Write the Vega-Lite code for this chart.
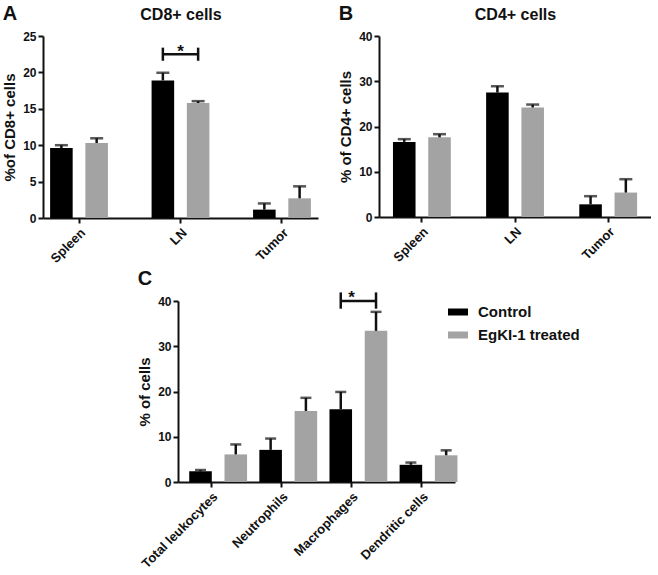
{
  "$schema": "https://vega.github.io/schema/vega-lite/v6.json",
  "padding": {"top": 4, "left": 2, "right": 0, "bottom": 0},
  "background": "white",
  "datasets": {
    "bars": [
      {"panel": "A", "tissue": "Spleen", "group": "Control", "value": 9.6, "upper": 10.0},
      {"panel": "A", "tissue": "Spleen", "group": "EgKI-1 treated", "value": 10.3, "upper": 10.95},
      {"panel": "A", "tissue": "LN", "group": "Control", "value": 18.9, "upper": 19.95},
      {"panel": "A", "tissue": "LN", "group": "EgKI-1 treated", "value": 15.8, "upper": 16.05},
      {"panel": "A", "tissue": "Tumor", "group": "Control", "value": 1.15, "upper": 2.0},
      {"panel": "A", "tissue": "Tumor", "group": "EgKI-1 treated", "value": 2.7, "upper": 4.35},
      {"panel": "B", "tissue": "Spleen", "group": "Control", "value": 16.6, "upper": 17.2},
      {"panel": "B", "tissue": "Spleen", "group": "EgKI-1 treated", "value": 17.6, "upper": 18.3},
      {"panel": "B", "tissue": "LN", "group": "Control", "value": 27.5, "upper": 28.9},
      {"panel": "B", "tissue": "LN", "group": "EgKI-1 treated", "value": 24.2, "upper": 24.85},
      {"panel": "B", "tissue": "Tumor", "group": "Control", "value": 2.8, "upper": 4.6},
      {"panel": "B", "tissue": "Tumor", "group": "EgKI-1 treated", "value": 5.4, "upper": 8.35},
      {"panel": "C", "tissue": "Total leukocytes", "group": "Control", "value": 2.35, "upper": 2.65},
      {"panel": "C", "tissue": "Total leukocytes", "group": "EgKI-1 treated", "value": 6.1, "upper": 8.3},
      {"panel": "C", "tissue": "Neutrophils", "group": "Control", "value": 7.1, "upper": 9.6},
      {"panel": "C", "tissue": "Neutrophils", "group": "EgKI-1 treated", "value": 15.7, "upper": 18.6},
      {"panel": "C", "tissue": "Macrophages", "group": "Control", "value": 16.1, "upper": 19.9},
      {"panel": "C", "tissue": "Macrophages", "group": "EgKI-1 treated", "value": 33.4, "upper": 37.6},
      {"panel": "C", "tissue": "Dendritic cells", "group": "Control", "value": 3.8, "upper": 4.3},
      {"panel": "C", "tissue": "Dendritic cells", "group": "EgKI-1 treated", "value": 5.9, "upper": 7.0}
    ],
    "sig": [
      {"panel": "A", "tissue": "LN", "group": "Control", "lo": 21.6, "hi": 23.4, "mid": 22.5, "star": 23.0},
      {"panel": "A", "tissue": "LN", "group": "EgKI-1 treated", "lo": 21.6, "hi": 23.4, "mid": 22.5, "star": 23.0},
      {"panel": "C", "tissue": "Macrophages", "group": "Control", "lo": 38.3, "hi": 41.9, "mid": 40.0, "star": 40.8},
      {"panel": "C", "tissue": "Macrophages", "group": "EgKI-1 treated", "lo": 38.3, "hi": 41.9, "mid": 40.0, "star": 40.8}
    ]
  },
  "config": {
    "font": "Liberation Sans",
    "view": {"stroke": null},
    "axis": {
      "domainColor": "#111", "domainWidth": 2, "tickColor": "#111", "tickWidth": 2, "tickSize": 5,
      "labelFont": "Liberation Sans", "labelFontWeight": "bold", "labelFontSize": 12, "labelColor": "#111",
      "titleFont": "Liberation Sans", "titleFontWeight": "bold", "titleFontSize": 15, "titleColor": "#111",
      "grid": false
    },
    "axisX": {"labelFontSize": 13},
    "title": {"fontSize": 20, "fontWeight": "bold", "anchor": "start", "frame": "bounds", "color": "#111", "font": "Liberation Sans"}
  },
  "spacing": 3,
  "resolve": {"scale": {"color": "independent"}},
  "vconcat": [
    {
      "spacing": 20,
      "resolve": {"scale": {"color": "independent"}},
      "hconcat": [
        {
          "title": {"text": "A", "dy": 22},
          "width": 275, "height": 182,
          "resolve": {"axis": {"x": "independent"}},
          "layer": [
            {
              "data": {"name": "bars"},
              "transform": [{"filter": "datum.panel === 'A'"}],
              "mark": {"type": "bar"},
              "encoding": {
                "x": {"field": "tissue", "type": "nominal", "scale": {"domain": ["Spleen", "LN", "Tumor"], "paddingInner": 0.43, "paddingOuter": 0.07},
                      "axis": {"title": null, "labelAngle": -45, "labelPadding": 3}},
                "xOffset": {"field": "group", "type": "nominal", "scale": {"domain": ["Control", "EgKI-1 treated"], "paddingInner": 0.36}},
                "y": {"field": "value", "type": "quantitative", "scale": {"domain": [0, 25], "nice": false},
                      "axis": {"title": "%of CD8+ cells", "values": [0, 5, 10, 15, 20, 25], "titlePadding": 5}},
                "color": {"field": "group", "type": "nominal", "scale": {"domain": ["Control", "EgKI-1 treated"], "range": ["#000000", "#a3a3a3"]}, "legend": null}
              }
            },
            {
              "data": {"name": "bars"},
              "transform": [{"filter": "datum.panel === 'A'"}],
              "mark": {"type": "rule", "color": "#111", "strokeWidth": 2.5},
              "encoding": {
                "x": {"field": "tissue", "type": "nominal", "axis": {"orient": "top", "title": "CD8+ cells", "titleFontSize": 16, "labels": false, "ticks": false, "domain": false, "titlePadding": 14, "minExtent": 0}},
                "xOffset": {"field": "group", "type": "nominal"},
                "y": {"field": "value", "type": "quantitative", "axis": {"title": "%of CD8+ cells", "values": [0, 5, 10, 15, 20, 25], "titlePadding": 5}},
                "y2": {"field": "upper"}
              }
            },
            {
              "data": {"name": "bars"},
              "transform": [{"filter": "datum.panel === 'A'"}],
              "mark": {"type": "tick", "orient": "horizontal", "color": "#111", "size": 13, "thickness": 2.5},
              "encoding": {
                "x": {"field": "tissue", "type": "nominal", "axis": null},
                "xOffset": {"field": "group", "type": "nominal"},
                "y": {"field": "upper", "type": "quantitative", "axis": {"title": "%of CD8+ cells", "values": [0, 5, 10, 15, 20, 25], "titlePadding": 5}}
              }
            },
            {
              "data": {"name": "sig"},
              "transform": [{"filter": "datum.panel === 'A'"}],
              "mark": {"type": "rule", "color": "#111", "strokeWidth": 2.5},
              "encoding": {
                "x": {"field": "tissue", "type": "nominal", "axis": null},
                "xOffset": {"field": "group", "type": "nominal"},
                "y": {"field": "lo", "type": "quantitative", "axis": {"title": "%of CD8+ cells", "values": [0, 5, 10, 15, 20, 25], "titlePadding": 5}},
                "y2": {"field": "hi"}
              }
            },
            {
              "data": {"name": "sig"},
              "transform": [{"filter": "datum.panel === 'A'"}],
              "mark": {"type": "line", "color": "#111", "strokeWidth": 2.5},
              "encoding": {
                "x": {"field": "tissue", "type": "nominal", "axis": null},
                "xOffset": {"field": "group", "type": "nominal"},
                "y": {"field": "mid", "type": "quantitative", "axis": {"title": "%of CD8+ cells", "values": [0, 5, 10, 15, 20, 25], "titlePadding": 5}}
              }
            },
            {
              "data": {"name": "sig"},
              "transform": [{"filter": "datum.panel === 'A' && datum.group === 'Control'"}],
              "mark": {"type": "text", "text": "*", "fontSize": 17, "fontWeight": "bold", "color": "#111", "baseline": "alphabetic", "dy": 6},
              "encoding": {
                "x": {"field": "tissue", "type": "nominal", "axis": null},
                "y": {"field": "star", "type": "quantitative", "axis": {"title": "%of CD8+ cells", "values": [0, 5, 10, 15, 20, 25], "titlePadding": 5}}
              }
            }
          ]
        },
        {
          "title": {"text": "B", "dy": 22},
          "width": 272, "height": 181,
          "resolve": {"axis": {"x": "independent"}},
          "layer": [
            {
              "data": {"name": "bars"},
              "transform": [{"filter": "datum.panel === 'B'"}],
              "mark": {"type": "bar"},
              "encoding": {
                "x": {"field": "tissue", "type": "nominal", "scale": {"domain": ["Spleen", "LN", "Tumor"], "paddingInner": 0.38, "paddingOuter": 0.15},
                      "axis": {"title": null, "labelAngle": -45, "labelPadding": 3}},
                "xOffset": {"field": "group", "type": "nominal", "scale": {"domain": ["Control", "EgKI-1 treated"], "paddingInner": 0.36}},
                "y": {"field": "value", "type": "quantitative", "scale": {"domain": [0, 40], "nice": false},
                      "axis": {"title": "% of CD4+ cells", "values": [0, 10, 20, 30, 40], "titlePadding": 5}},
                "color": {"field": "group", "type": "nominal", "scale": {"domain": ["Control", "EgKI-1 treated"], "range": ["#000000", "#a3a3a3"]}, "legend": null}
              }
            },
            {
              "data": {"name": "bars"},
              "transform": [{"filter": "datum.panel === 'B'"}],
              "mark": {"type": "rule", "color": "#111", "strokeWidth": 2.5},
              "encoding": {
                "x": {"field": "tissue", "type": "nominal", "axis": {"orient": "top", "title": "CD4+ cells", "titleFontSize": 16, "labels": false, "ticks": false, "domain": false, "titlePadding": 14, "minExtent": 0}},
                "xOffset": {"field": "group", "type": "nominal"},
                "y": {"field": "value", "type": "quantitative", "axis": {"title": "% of CD4+ cells", "values": [0, 10, 20, 30, 40], "titlePadding": 5}},
                "y2": {"field": "upper"}
              }
            },
            {
              "data": {"name": "bars"},
              "transform": [{"filter": "datum.panel === 'B'"}],
              "mark": {"type": "tick", "orient": "horizontal", "color": "#111", "size": 13, "thickness": 2.5},
              "encoding": {
                "x": {"field": "tissue", "type": "nominal", "axis": null},
                "xOffset": {"field": "group", "type": "nominal"},
                "y": {"field": "upper", "type": "quantitative", "axis": {"title": "% of CD4+ cells", "values": [0, 10, 20, 30, 40], "titlePadding": 5}}
              }
            }
          ]
        }
      ]
    },
    {
      "spacing": 0,
      "resolve": {"scale": {"color": "independent"}},
      "hconcat": [
        {
          "width": 94, "height": 10,
          "data": {"values": []},
          "mark": {"type": "point", "opacity": 0}
        },
        {
          "title": {"text": "C", "offset": 0},
          "width": 277, "height": 181,
          "layer": [
            {
              "data": {"name": "bars"},
              "transform": [{"filter": "datum.panel === 'C'"}],
              "mark": {"type": "bar"},
              "encoding": {
                "x": {"field": "tissue", "type": "nominal", "scale": {"domain": ["Total leukocytes", "Neutrophils", "Macrophages", "Dendritic cells"], "paddingInner": 0.37, "paddingOuter": 0.16},
                      "axis": {"title": null, "labelAngle": -45, "labelPadding": 3}},
                "xOffset": {"field": "group", "type": "nominal", "scale": {"domain": ["Control", "EgKI-1 treated"], "paddingInner": 0.31}},
                "y": {"field": "value", "type": "quantitative", "scale": {"domain": [0, 40], "nice": false},
                      "axis": {"title": "% of cells", "values": [0, 10, 20, 30, 40], "titlePadding": 5}},
                "color": {"field": "group", "type": "nominal", "scale": {"domain": ["Control", "EgKI-1 treated"], "range": ["#000000", "#a3a3a3"]},
                          "legend": {"title": null, "orient": "none", "legendX": 270, "legendY": 1, "padding": 0,
                                     "symbolType": "M-1,-0.35H1V0.35H-1Z", "symbolSize": 400, "symbolStrokeWidth": 0, "symbolOpacity": 1,
                                     "labelFont": "Liberation Sans", "labelFontSize": 15, "labelFontWeight": "bold", "labelColor": "#111",
                                     "labelOffset": 10, "rowPadding": 5}}
              }
            },
            {
              "data": {"name": "bars"},
              "transform": [{"filter": "datum.panel === 'C'"}],
              "mark": {"type": "rule", "color": "#111", "strokeWidth": 2.5},
              "encoding": {
                "x": {"field": "tissue", "type": "nominal"},
                "xOffset": {"field": "group", "type": "nominal"},
                "y": {"field": "value", "type": "quantitative", "axis": {"title": "% of cells", "values": [0, 10, 20, 30, 40], "titlePadding": 5}},
                "y2": {"field": "upper"}
              }
            },
            {
              "data": {"name": "bars"},
              "transform": [{"filter": "datum.panel === 'C'"}],
              "mark": {"type": "tick", "orient": "horizontal", "color": "#111", "size": 11, "thickness": 2.5},
              "encoding": {
                "x": {"field": "tissue", "type": "nominal"},
                "xOffset": {"field": "group", "type": "nominal"},
                "y": {"field": "upper", "type": "quantitative", "axis": {"title": "% of cells", "values": [0, 10, 20, 30, 40], "titlePadding": 5}}
              }
            },
            {
              "data": {"name": "sig"},
              "transform": [{"filter": "datum.panel === 'C'"}],
              "mark": {"type": "rule", "color": "#111", "strokeWidth": 2.5},
              "encoding": {
                "x": {"field": "tissue", "type": "nominal"},
                "xOffset": {"field": "group", "type": "nominal"},
                "y": {"field": "lo", "type": "quantitative", "axis": {"title": "% of cells", "values": [0, 10, 20, 30, 40], "titlePadding": 5}},
                "y2": {"field": "hi"}
              }
            },
            {
              "data": {"name": "sig"},
              "transform": [{"filter": "datum.panel === 'C'"}],
              "mark": {"type": "line", "color": "#111", "strokeWidth": 2.5},
              "encoding": {
                "x": {"field": "tissue", "type": "nominal"},
                "xOffset": {"field": "group", "type": "nominal"},
                "y": {"field": "mid", "type": "quantitative", "axis": {"title": "% of cells", "values": [0, 10, 20, 30, 40], "titlePadding": 5}}
              }
            },
            {
              "data": {"name": "sig"},
              "transform": [{"filter": "datum.panel === 'C' && datum.group === 'Control'"}],
              "mark": {"type": "text", "text": "*", "fontSize": 17, "fontWeight": "bold", "color": "#111", "baseline": "alphabetic", "dy": 6},
              "encoding": {
                "x": {"field": "tissue", "type": "nominal"},
                "y": {"field": "star", "type": "quantitative", "axis": {"title": "% of cells", "values": [0, 10, 20, 30, 40], "titlePadding": 5}}
              }
            }
          ]
        }
      ]
    }
  ]
}
